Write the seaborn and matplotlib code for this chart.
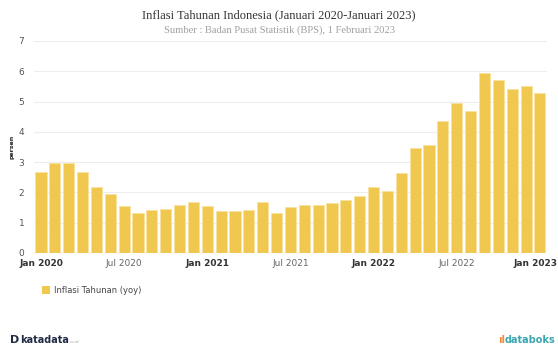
import numpy as np
import pandas as pd
import seaborn as sns
import matplotlib.pyplot as plt
from matplotlib.patches import Patch

# Monthly data, Jan 2020 - Jan 2023
months = pd.date_range('2020-01-01', '2023-01-01', freq='MS')
inflasi = [2.68, 2.98, 2.96, 2.67, 2.19, 1.96, 1.54, 1.32, 1.42, 1.44, 1.59, 1.68,
           1.55, 1.38, 1.37, 1.42, 1.68, 1.33, 1.52, 1.59, 1.60, 1.66, 1.75, 1.87,
           2.18, 2.06, 2.64, 3.47, 3.55, 4.35, 4.94, 4.69, 5.95, 5.71, 5.42, 5.51,
           5.28]
tick_pos = [0, 6, 12, 18, 24, 30, 36]
tick_labels = ['Jan 2020', 'Jul 2020', 'Jan 2021', 'Jul 2021', 'Jan 2022', 'Jul 2022', 'Jan 2023']

df = pd.DataFrame({'bulan': np.arange(len(months)), 'nilai': inflasi})

sns.set_style('white')
plt.rcParams['font.family'] = ['DejaVu Sans']

bar_color = '#F0C850'

fig = plt.figure(figsize=(5.58, 3.47), dpi=100)
ax = fig.add_axes([0.061, 0.271, 0.919, 0.611])

sns.barplot(data=df, x='bulan', y='nilai', color=bar_color, width=0.8,
            edgecolor='#F8E2A2', linewidth=0.7, saturation=1, ax=ax, zorder=2)

ax.set_xlim(-0.5, len(months) - 0.5)
ax.set_ylim(0, 7)
ax.set_yticks(range(0, 8))
ax.yaxis.grid(True, color='#EDEDED', linewidth=0.8, zorder=0)
ax.set_axisbelow(True)
for s in ax.spines.values():
    s.set_visible(False)
ax.axhline(0, color='#E0E0E0', linewidth=0.8, zorder=1)

# last label is drawn separately so it stays inside the figure
ax.set_xticks(tick_pos)
ax.set_xticklabels(tick_labels[:-1] + [''])
for lab in ax.get_xticklabels():
    if lab.get_text().startswith('Jan'):
        lab.set_fontweight('bold')
        lab.set_color('#333333')
    else:
        lab.set_color('#666666')
ax.tick_params(axis='x', length=0, labelsize=6.5, pad=4)
ax.tick_params(axis='y', length=0, labelsize=6.5, labelcolor='#555555', pad=7)
ax.annotate(tick_labels[-1], xy=(tick_pos[-1], 0), xycoords=('data', 'axes fraction'),
            xytext=(-3, -4), textcoords='offset points', ha='center', va='top',
            fontsize=6.5, fontweight='bold', color='#333333', annotation_clip=False)

ax.set_xlabel('')
ax.set_ylabel('persen', fontsize=4.5, fontweight='bold', color='#222222', labelpad=3)

fig.text(0.5, 0.955, 'Inflasi Tahunan Indonesia (Januari 2020-Januari 2023)',
         ha='center', va='center', fontsize=9, family='Liberation Serif', color='#333333')
fig.text(0.5, 0.913, 'Sumber : Badan Pusat Statistik (BPS), 1 Februari 2023',
         ha='center', va='center', fontsize=7.6, family='Liberation Serif', color='#A0A0A0')

handle = Patch(facecolor=bar_color, edgecolor='none')
fig.legend([handle], ['Inflasi Tahunan (yoy)'], loc='center left',
           bbox_to_anchor=(0.062, 0.163), frameon=False, fontsize=6,
           handlelength=1.0, handleheight=1.0, handletextpad=0.4,
           labelcolor='#444444')

# footer logos as text
fig.text(0.018, 0.005, 'D', fontsize=8, fontweight='bold', color='#1f2a44', va='bottom')
fig.text(0.036, 0.005, 'katadata', fontsize=7, fontweight='bold', color='#1f2a44', va='bottom')
fig.text(0.125, 0.008, 'co.id', fontsize=3, color='#AAAAAA', va='bottom')
fig.text(0.995, 0.005, 'databoks', fontsize=7, fontweight='bold', color='#3AA6AE',
         va='bottom', ha='right')
fig.text(0.905, 0.005, 'ıl', fontsize=7, fontweight='bold', color='#F08A3C', va='bottom', ha='right')

fig.savefig('out.png', dpi=100)
